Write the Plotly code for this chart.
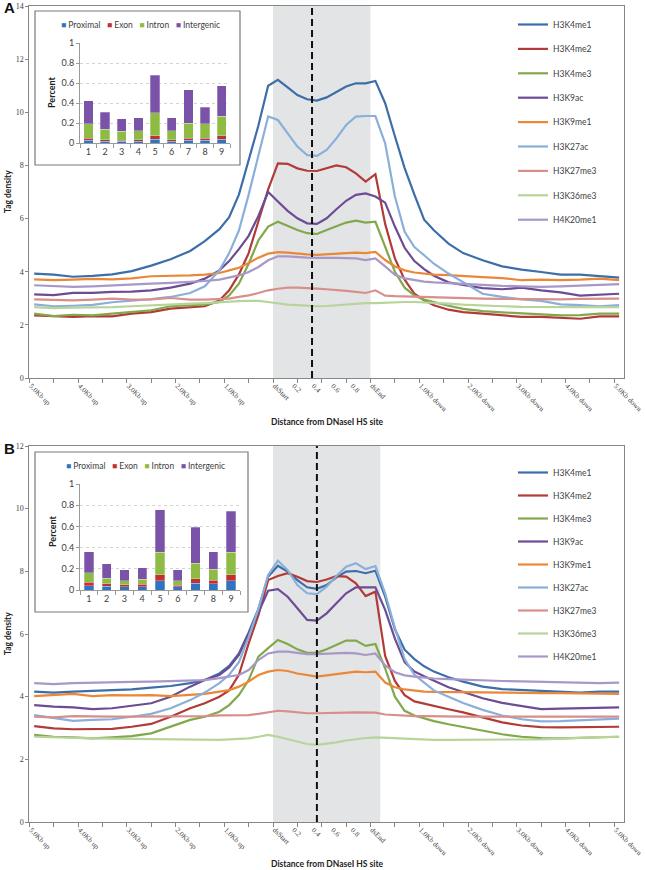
import plotly.graph_objects as go

W, H = 645, 870

# ---------------- categories / ticks ----------------
UP_CATS = [f"{d/10:.1f}Kb up" for d in range(50, 0, -1)]
DS_CATS = ["dsStart"] + [f"{k/20:.2f}" for k in range(1, 20)]
DOWN_CATS = ["dsEnd"] + [f"{d/10:.1f}Kb down" for d in range(1, 51)]
CATEGORIES = UP_CATS + DS_CATS + DOWN_CATS

TICK_CATS = ["5.0Kb up", "4.0Kb up", "3.0Kb up", "2.0Kb up", "1.0Kb up", "dsStart",
             "0.20", "0.40", "0.60", "0.80", "dsEnd", "1.0Kb down", "2.0Kb down",
             "3.0Kb down", "4.0Kb down", "5.0Kb down"]
TICK_TEXT = ["5.0Kb up", "4.0Kb up", "3.0Kb up", "2.0Kb up", "1.0Kb up", "dsStart",
             "0.2", "0.4", "0.6", "0.8", "dsEnd", "1.0Kb down", "2.0Kb down",
             "3.0Kb down", "4.0Kb down", "5.0Kb down"]

# positions at which values were read
SAMPLES = ["5.0Kb up", "4.6Kb up", "4.2Kb up", "3.8Kb up", "3.4Kb up", "3.0Kb up", "2.6Kb up",
           "2.2Kb up", "1.8Kb up", "1.5Kb up", "1.2Kb up", "1.0Kb up", "0.8Kb up", "0.6Kb up",
           "0.4Kb up", "0.2Kb up", "dsStart", "0.10", "0.20", "0.30", "0.40", "0.50", "0.60",
           "0.70", "0.80", "0.90", "dsEnd", "0.2Kb down", "0.4Kb down", "0.6Kb down",
           "0.8Kb down", "1.0Kb down", "1.2Kb down", "1.5Kb down", "1.8Kb down", "2.2Kb down",
           "2.6Kb down", "3.0Kb down", "3.4Kb down", "3.8Kb down", "4.2Kb down", "4.6Kb down",
           "5.0Kb down"]

MARKS = ["H3K4me1", "H3K4me2", "H3K4me3", "H3K9ac", "H3K9me1",
         "H3K27ac", "H3K27me3", "H3K36me3", "H4K20me1"]
LINE_COLORS = ["#3D6EA8", "#B23B37", "#82A84C", "#6C4C93", "#EB8838",
               "#8AAFDA", "#D88F8C", "#B7D49B", "#A898C8"]

# ---------------- panel A ----------------
A_H3K4ME1 = [3.93, 3.89, 3.81, 3.84, 3.90, 4.02, 4.23, 4.47, 4.78, 5.15, 5.60, 6.05, 6.90, 8.20, 9.50, 11.00,
             11.22, 10.94, 10.65, 10.49, 10.44, 10.56, 10.78, 10.97, 11.09, 11.09, 11.18,
             10.34, 9.10, 7.90, 6.90, 5.96, 5.56, 5.06, 4.70, 4.43, 4.20, 4.08, 3.99, 3.89, 3.89, 3.84, 3.78]
A_H3K4ME2 = [2.36, 2.32, 2.30, 2.33, 2.32, 2.42, 2.48, 2.61, 2.67, 2.70, 2.92, 3.30, 3.90, 4.70, 5.90, 7.10,
             8.08, 8.06, 7.89, 7.80, 7.79, 7.89, 8.00, 7.93, 7.70, 7.39, 7.67,
             5.80, 4.50, 3.70, 3.17, 2.92, 2.74, 2.57, 2.48, 2.42, 2.36, 2.30, 2.30, 2.26, 2.23, 2.32, 2.32]
A_H3K4ME3 = [2.42, 2.33, 2.38, 2.36, 2.42, 2.48, 2.55, 2.70, 2.74, 2.76, 2.86, 3.11, 3.55, 4.30, 5.18, 5.70,
             5.88, 5.72, 5.57, 5.45, 5.42, 5.57, 5.72, 5.85, 5.92, 5.85, 5.88,
             4.95, 4.00, 3.40, 3.10, 2.95, 2.85, 2.72, 2.60, 2.52, 2.47, 2.43, 2.40, 2.36, 2.37, 2.42, 2.42]
A_H3K9AC = [3.15, 3.12, 3.20, 3.20, 3.24, 3.25, 3.30, 3.40, 3.55, 3.74, 4.05, 4.40, 4.85, 5.35, 6.10, 7.00,
            6.64, 6.29, 6.01, 5.82, 5.80, 6.01, 6.35, 6.67, 6.89, 6.95, 6.83,
            6.60, 5.70, 4.90, 4.40, 4.10, 3.85, 3.60, 3.50, 3.38, 3.34, 3.40, 3.30, 3.22, 3.10, 3.13, 3.17]
A_H3K9ME1 = [3.71, 3.68, 3.70, 3.73, 3.71, 3.75, 3.83, 3.84, 3.86, 3.89, 3.95, 4.05, 4.15, 4.33, 4.53, 4.68,
             4.74, 4.72, 4.68, 4.65, 4.63, 4.66, 4.68, 4.70, 4.72, 4.70, 4.75,
             4.44, 4.20, 4.05, 3.97, 3.92, 3.89, 3.87, 3.85, 3.80, 3.76, 3.68, 3.70, 3.68, 3.70, 3.74, 3.68]
A_H3K27AC = [2.77, 2.70, 2.72, 2.75, 2.85, 2.90, 2.97, 3.05, 3.20, 3.45, 4.05, 4.70, 5.55, 6.90, 8.40, 9.84,
             9.71, 9.20, 8.71, 8.39, 8.36, 8.58, 9.02, 9.52, 9.84, 9.86, 9.86,
             8.83, 6.83, 5.50, 4.93, 4.62, 4.30, 3.93, 3.61, 3.17, 3.05, 2.96, 2.90, 2.77, 2.74, 2.70, 2.74]
A_H3K27ME3 = [2.96, 2.95, 2.92, 2.95, 2.99, 2.95, 2.96, 3.01, 2.95, 2.95, 2.99, 2.99, 3.05, 3.11, 3.20, 3.30,
              3.36, 3.40, 3.40, 3.39, 3.36, 3.34, 3.32, 3.28, 3.24, 3.20, 3.30,
              3.10, 3.08, 3.07, 3.05, 3.03, 3.02, 3.00, 2.99, 2.99, 2.98, 2.97, 2.96, 2.96, 2.98, 2.99, 2.99]
A_H3K36ME3 = [2.67, 2.63, 2.65, 2.65, 2.67, 2.70, 2.74, 2.76, 2.80, 2.82, 2.86, 2.89, 2.89, 2.90, 2.90, 2.86,
              2.80, 2.76, 2.74, 2.71, 2.70, 2.71, 2.74, 2.77, 2.80, 2.82, 2.82,
              2.84, 2.86, 2.86, 2.86, 2.85, 2.82, 2.80, 2.76, 2.72, 2.70, 2.68, 2.67, 2.67, 2.67, 2.67, 2.67]
A_H4K20ME1 = [3.49, 3.45, 3.43, 3.45, 3.49, 3.53, 3.55, 3.58, 3.61, 3.65, 3.70, 3.78, 3.86, 3.99, 4.18, 4.43,
              4.58, 4.58, 4.55, 4.53, 4.52, 4.53, 4.52, 4.51, 4.50, 4.44, 4.50,
              4.20, 3.88, 3.75, 3.68, 3.63, 3.60, 3.57, 3.54, 3.50, 3.47, 3.45, 3.43, 3.45, 3.47, 3.50, 3.53]

# ---------------- panel B ----------------
B_H3K4ME1 = [4.16, 4.13, 4.16, 4.19, 4.21, 4.23, 4.29, 4.34, 4.43, 4.53, 4.74, 4.98, 5.38, 6.05, 6.80, 7.83,
             8.18, 7.99, 7.72, 7.49, 7.44, 7.56, 7.81, 7.99, 8.01, 7.94, 8.02,
             7.19, 6.15, 5.50, 5.20, 4.97, 4.80, 4.62, 4.48, 4.32, 4.24, 4.21, 4.18, 4.16, 4.13, 4.16, 4.16]
B_H3K4ME2 = [3.06, 2.99, 2.96, 2.96, 2.97, 3.04, 3.13, 3.36, 3.63, 3.79, 4.00, 4.20, 4.70, 5.70, 6.60, 7.72,
             7.85, 7.94, 7.83, 7.69, 7.66, 7.74, 7.85, 7.83, 7.62, 7.21, 7.35,
             5.30, 4.50, 4.05, 3.85, 3.78, 3.70, 3.60, 3.50, 3.33, 3.18, 3.08, 3.03, 3.02, 3.02, 3.04, 3.04]
B_H3K4ME3 = [2.78, 2.72, 2.70, 2.67, 2.70, 2.74, 2.83, 3.04, 3.26, 3.36, 3.52, 3.73, 4.05, 4.53, 5.28, 5.55,
             5.81, 5.68, 5.51, 5.40, 5.40, 5.51, 5.65, 5.79, 5.79, 5.62, 5.68,
             4.90, 4.00, 3.55, 3.40, 3.30, 3.22, 3.12, 3.03, 2.90, 2.80, 2.72, 2.68, 2.67, 2.69, 2.71, 2.72]
B_H3K9AC = [3.73, 3.68, 3.66, 3.60, 3.63, 3.70, 3.79, 4.00, 4.32, 4.53, 4.69, 4.93, 5.33, 6.00, 6.70, 7.38,
            7.43, 7.19, 6.82, 6.45, 6.43, 6.66, 6.98, 7.30, 7.49, 7.49, 7.49,
            6.77, 5.85, 5.10, 4.80, 4.65, 4.50, 4.30, 4.15, 3.95, 3.80, 3.70, 3.60, 3.62, 3.63, 3.66, 3.66]
B_H3K9ME1 = [4.02, 4.05, 4.09, 4.02, 4.05, 4.04, 4.05, 4.02, 4.06, 4.09, 4.16, 4.21, 4.32, 4.48, 4.69, 4.80,
             4.85, 4.82, 4.74, 4.68, 4.64, 4.68, 4.72, 4.77, 4.80, 4.78, 4.80,
             4.45, 4.30, 4.23, 4.19, 4.16, 4.15, 4.14, 4.13, 4.14, 4.13, 4.11, 4.11, 4.11, 4.10, 4.09, 4.09]
B_H3K27AC = [3.41, 3.31, 3.23, 3.26, 3.28, 3.36, 3.45, 3.63, 3.89, 4.13, 4.43, 4.70, 5.10, 5.90, 6.80, 7.88,
             8.34, 8.04, 7.56, 7.30, 7.27, 7.51, 7.85, 8.15, 8.26, 8.07, 8.17,
             7.30, 6.20, 5.20, 4.70, 4.45, 4.20, 4.00, 3.80, 3.58, 3.40, 3.28, 3.21, 3.22, 3.25, 3.26, 3.30]
B_H3K27ME3 = [3.36, 3.34, 3.38, 3.36, 3.36, 3.36, 3.36, 3.38, 3.38, 3.38, 3.40, 3.41, 3.41, 3.41, 3.45, 3.49,
              3.55, 3.53, 3.49, 3.47, 3.47, 3.47, 3.48, 3.49, 3.50, 3.50, 3.49,
              3.43, 3.41, 3.39, 3.38, 3.38, 3.37, 3.37, 3.36, 3.36, 3.36, 3.36, 3.36, 3.36, 3.36, 3.36, 3.36]
B_H3K36ME3 = [2.72, 2.70, 2.67, 2.67, 2.66, 2.65, 2.65, 2.64, 2.62, 2.62, 2.62, 2.64, 2.65, 2.67, 2.72, 2.78,
              2.72, 2.64, 2.56, 2.49, 2.46, 2.49, 2.54, 2.60, 2.65, 2.68, 2.70,
              2.70, 2.68, 2.66, 2.64, 2.62, 2.62, 2.62, 2.62, 2.63, 2.64, 2.64, 2.64, 2.66, 2.69, 2.71, 2.72]
B_H4K20ME1 = [4.43, 4.40, 4.43, 4.45, 4.46, 4.47, 4.48, 4.50, 4.51, 4.53, 4.59, 4.64, 4.69, 4.85, 5.17, 5.38,
              5.44, 5.44, 5.40, 5.36, 5.36, 5.38, 5.38, 5.40, 5.38, 5.33, 5.38,
              5.00, 4.78, 4.68, 4.64, 4.60, 4.58, 4.56, 4.54, 4.52, 4.50, 4.49, 4.47, 4.45, 4.44, 4.43, 4.45]

A_SERIES = [A_H3K4ME1, A_H3K4ME2, A_H3K4ME3, A_H3K9AC, A_H3K9ME1,
            A_H3K27AC, A_H3K27ME3, A_H3K36ME3, A_H4K20ME1]
B_SERIES = [B_H3K4ME1, B_H3K4ME2, B_H3K4ME3, B_H3K9AC, B_H3K9ME1,
            B_H3K27AC, B_H3K27ME3, B_H3K36ME3, B_H4K20ME1]

# ---------------- insets (stacked percent) ----------------
INSET_CATS = [1, 2, 3, 4, 5, 6, 7, 8, 9]
REGIONS = ["Proximal", "Exon", "Intron", "Intergenic"]
REGION_COLORS = ["#2F74C4", "#C4302E", "#8DBB44", "#7A53A8"]

A_PROXIMAL = [0.027, 0.020, 0.017, 0.020, 0.040, 0.020, 0.030, 0.030, 0.040]
A_EXON = [0.020, 0.014, 0.010, 0.014, 0.031, 0.014, 0.017, 0.017, 0.031]
A_INTRON = [0.148, 0.104, 0.091, 0.090, 0.232, 0.090, 0.153, 0.148, 0.198]
A_INTERGENIC = [0.229, 0.168, 0.127, 0.131, 0.373, 0.131, 0.334, 0.161, 0.302]

B_PROXIMAL = [0.041, 0.035, 0.029, 0.032, 0.089, 0.029, 0.063, 0.057, 0.089]
B_EXON = [0.032, 0.025, 0.022, 0.022, 0.057, 0.015, 0.045, 0.035, 0.057]
B_INTRON = [0.092, 0.051, 0.038, 0.046, 0.210, 0.045, 0.146, 0.102, 0.210]
B_INTERGENIC = [0.197, 0.137, 0.101, 0.110, 0.402, 0.101, 0.336, 0.168, 0.387]

A_BARS = [A_PROXIMAL, A_EXON, A_INTRON, A_INTERGENIC]
B_BARS = [B_PROXIMAL, B_EXON, B_INTRON, B_INTERGENIC]

# shaded DNase region and centre line (category-index units)
SHADE_A = (49, 69)
CENTER_A = 57
SHADE_B = (49, 71)
CENTER_B = 58


def xp(px):
    return px / W


def yp(py):
    return 1 - py / H


SANS = "Lato, 'Liberation Sans', Arial, sans-serif"
SERIF = "'Liberation Serif', 'Times New Roman', serif"
AXC = "#868686"
TXT = "#404040"

fig = go.Figure()

for i, name in enumerate(MARKS):
    fig.add_trace(go.Scatter(
        x=SAMPLES, y=A_SERIES[i], name=name, mode="lines",
        line=dict(color=LINE_COLORS[i], width=2.2),
        xaxis="x", yaxis="y", legend="legend", legendgroup=f"A{i}"))
for i, name in enumerate(MARKS):
    fig.add_trace(go.Scatter(
        x=SAMPLES, y=B_SERIES[i], name=name, mode="lines",
        line=dict(color=LINE_COLORS[i], width=2.2),
        xaxis="x2", yaxis="y2", legend="legend2", legendgroup=f"B{i}"))

for j, reg in enumerate(REGIONS):
    fig.add_trace(go.Bar(
        x=INSET_CATS, y=A_BARS[j], name=reg, width=0.56,
        marker=dict(color=REGION_COLORS[j], line=dict(color="rgba(255,255,255,0.45)", width=0.6)),
        xaxis="x5", yaxis="y5", showlegend=False))
    fig.add_trace(go.Bar(
        x=INSET_CATS, y=B_BARS[j], name=reg, width=0.52,
        marker=dict(color=REGION_COLORS[j], line=dict(color="rgba(255,255,255,0.45)", width=0.6)),
        xaxis="x6", yaxis="y6", showlegend=False))


def main_x(domain, anchor):
    return dict(domain=domain, anchor=anchor, type="category", categoryorder="array",
                categoryarray=CATEGORIES, range=[-1, 121], tickmode="array",
                tickvals=TICK_CATS, ticktext=TICK_TEXT, tickangle=45,
                tickfont=dict(family=SERIF, size=7.2, color=TXT), automargin=False,
                ticklabelshift=-3,
                showline=True, linecolor=AXC, linewidth=1, mirror=True,
                ticks="", showgrid=False, zeroline=False)


def tick_x(domain, anchor, over):
    return dict(domain=domain, anchor=anchor, overlaying=over, type="linear",
                range=[-1, 121], tickmode="linear", tick0=-1, dtick=5, automargin=False,
                ticks="outside", ticklen=4, tickcolor=AXC, showticklabels=False,
                showgrid=False, zeroline=False, showline=False)


def main_y(domain, anchor, top):
    return dict(domain=domain, anchor=anchor, range=[0, top], dtick=2, automargin=False,
                tickfont=dict(family=SERIF, size=8, color=TXT),
                showline=True, linecolor=AXC, linewidth=1, mirror=True,
                ticks="outside", ticklen=3, tickcolor=AXC,
                showgrid=False, zeroline=False)


def inset_x(domain, anchor):
    return dict(domain=domain, anchor=anchor, range=[0.5, 9.5], tickmode="array",
                tickvals=INSET_CATS, ticks="", showline=True, linecolor="#9a9a9a",
                automargin=False,
                tickfont=dict(family=SANS, size=9, color=TXT), showgrid=False, zeroline=False,
                minor=dict(tickmode="array", tickvals=[k + 0.5 for k in range(0, 10)],
                           ticks="outside", ticklen=4, tickcolor="#9a9a9a"))


def inset_y(domain, anchor):
    return dict(domain=domain, anchor=anchor, range=[0, 1], dtick=0.2, automargin=False,
                tickfont=dict(family=SANS, size=9, color=TXT), ticks="outside", ticklen=3,
                tickcolor="#9a9a9a", showline=True, linecolor="#9a9a9a",
                showgrid=True, gridcolor="#d4d4d4", griddash="dot", zeroline=False)


dA = [xp(29.3), xp(624)]
dB = [xp(29.3), xp(624)]

fig.update_layout(
    width=W, height=H, margin=dict(l=0, r=0, t=0, b=0, autoexpand=False),
    paper_bgcolor="white", plot_bgcolor="rgba(0,0,0,0)",
    barmode="stack", showlegend=True,
    xaxis=main_x(dA, "y"),
    yaxis=main_y([yp(378), yp(6)], "x", 14),
    xaxis3=tick_x(dA, "y", "x"),
    xaxis2=main_x(dB, "y2"),
    yaxis2=main_y([yp(822), yp(446)], "x2", 12),
    xaxis4=tick_x(dB, "y2", "x2"),
    xaxis5=inset_x([xp(80), xp(230)], "y5"),
    yaxis5=inset_y([yp(143), yp(43)], "x5"),
    xaxis6=inset_x([xp(80), xp(240)], "y6"),
    yaxis6=inset_y([yp(590), yp(484)], "x6"),
    legend=dict(x=xp(513), y=yp(10), xanchor="left", yanchor="top",
                font=dict(family=SANS, size=8.5, color=TXT), bgcolor="rgba(0,0,0,0)",
                traceorder="grouped", tracegroupgap=5.4, itemwidth=30),
    legend2=dict(x=xp(513), y=yp(458), xanchor="left", yanchor="top",
                 font=dict(family=SANS, size=8.5, color=TXT), bgcolor="rgba(0,0,0,0)",
                 traceorder="grouped", tracegroupgap=4, itemwidth=30),
)

shapes = [
    dict(type="rect", xref="paper", yref="paper", x0=xp(35), x1=xp(240), y0=yp(165), y1=yp(11),
         line=dict(color="#7a7a7a", width=1.2), fillcolor="white", layer="below"),
    dict(type="rect", xref="paper", yref="paper", x0=xp(35), x1=xp(248), y0=yp(612), y1=yp(452),
         line=dict(color="#7a7a7a", width=1.2), fillcolor="white", layer="below"),
    dict(type="rect", xref="x3", yref="y domain", x0=SHADE_A[0], x1=SHADE_A[1], y0=0, y1=1,
         line=dict(width=0), fillcolor="#E3E4E6", layer="below"),
    dict(type="rect", xref="x4", yref="y2 domain", x0=SHADE_B[0], x1=SHADE_B[1], y0=0, y1=1,
         line=dict(width=0), fillcolor="#E3E4E6", layer="below"),
    dict(type="line", xref="x3", yref="y domain", x0=CENTER_A, x1=CENTER_A, y0=0, y1=1,
         line=dict(color="#111111", width=2, dash="7px,4px"), layer="above"),
    dict(type="line", xref="x4", yref="y2 domain", x0=CENTER_B, x1=CENTER_B, y0=0, y1=1,
         line=dict(color="#111111", width=2, dash="7px,4px"), layer="above"),
]
fig.update_layout(shapes=shapes)

legend_text = "&nbsp;&nbsp;&nbsp;".join(
    f"<span style='color:{c}'>■</span> {r}" for r, c in zip(REGIONS, REGION_COLORS))

annotations = [
    dict(text="<b>A</b>", x=xp(2), y=yp(8), xanchor="left", yanchor="middle",
         font=dict(family="'Liberation Sans', Arial", size=15, color="#111")),
    dict(text="<b>B</b>", x=xp(2), y=yp(448), xanchor="left", yanchor="middle",
         font=dict(family="'Liberation Sans', Arial", size=15, color="#111")),
    dict(text="<b>Tag density</b>", x=xp(8), y=yp(192), textangle=-90,
         xanchor="center", yanchor="middle", font=dict(family=SANS, size=8.5, color="#222")),
    dict(text="<b>Tag density</b>", x=xp(8), y=yp(634), textangle=-90,
         xanchor="center", yanchor="middle", font=dict(family=SANS, size=8.5, color="#222")),
    dict(text="<b>Distance from DNaseI HS site</b>", x=xp(327), y=yp(422),
         xanchor="center", yanchor="middle", font=dict(family=SANS, size=8.5, color="#222")),
    dict(text="<b>Distance from DNaseI HS site</b>", x=xp(327), y=yp(864),
         xanchor="center", yanchor="middle", font=dict(family=SANS, size=8.5, color="#222")),
    dict(text="<b>Percent</b>", x=xp(52), y=yp(93), textangle=-90,
         xanchor="center", yanchor="middle", font=dict(family=SANS, size=9, color="#222")),
    dict(text="<b>Percent</b>", x=xp(52), y=yp(532), textangle=-90,
         xanchor="center", yanchor="middle", font=dict(family=SANS, size=9, color="#222")),
    dict(text=legend_text, x=xp(140), y=yp(25), xanchor="center", yanchor="middle",
         font=dict(family=SANS, size=8.5, color=TXT)),
    dict(text=legend_text, x=xp(145), y=yp(466), xanchor="center", yanchor="middle",
         font=dict(family=SANS, size=8.5, color=TXT)),
]
for a in annotations:
    a.update(xref="paper", yref="paper", showarrow=False)
fig.update_layout(annotations=annotations)

fig.write_html("out.html", config={"displayModeBar": False},
               post_script="document.body.style.margin='0';document.body.style.padding='0';")
